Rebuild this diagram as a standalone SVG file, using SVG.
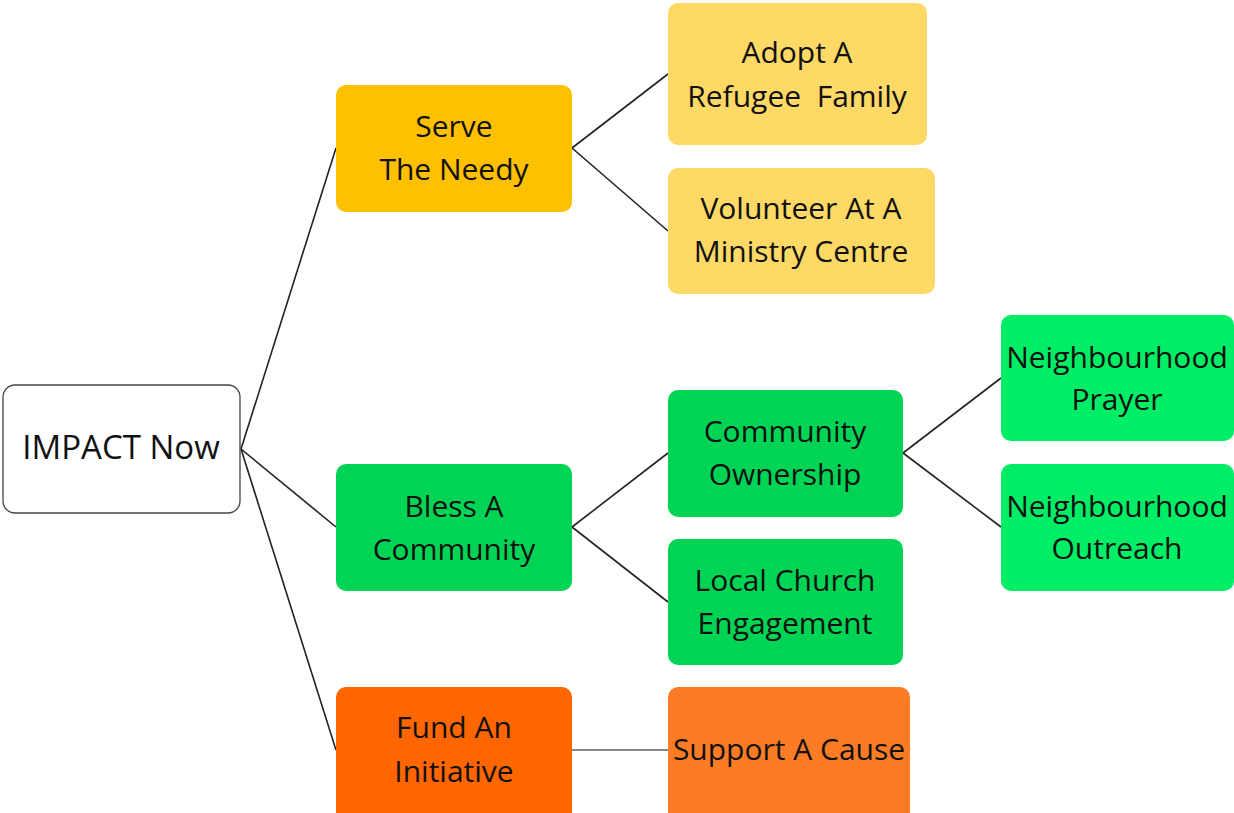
<svg xmlns="http://www.w3.org/2000/svg" width="1234" height="813" viewBox="0 0 1234 813">
<style>
text{font-family:"Open Sans","Noto Sans",sans-serif;font-size:30px;fill:#111;text-anchor:middle;dominant-baseline:central}
.c{stroke:#222;stroke-width:1.6;fill:none}
.g{stroke:#888;stroke-width:2;fill:none}
.gold{fill:#FFC000}
.lgold{fill:#FED966}
.grn{fill:#00D455}
.bgrn{fill:#00EE66}
.org{fill:#FF6600}
.lorg{fill:#FC7C26}
</style>
<rect width="1234" height="813" fill="#fff"/>
<g id="connectors">
<line class="c" x1="241" y1="449" x2="336" y2="148"/>
<line class="c" x1="241" y1="449" x2="336" y2="527"/>
<line class="c" x1="241" y1="449" x2="336" y2="750"/>
<line class="c" x1="572" y1="148" x2="668" y2="74"/>
<line class="c" x1="572" y1="148" x2="668" y2="231"/>
<line class="c" x1="572" y1="527" x2="668" y2="453"/>
<line class="c" x1="572" y1="527" x2="668" y2="602"/>
<line class="c" x1="903" y1="453" x2="1001" y2="378"/>
<line class="c" x1="903" y1="453" x2="1001" y2="527"/>
<line class="g" x1="572" y1="750" x2="668" y2="750"/>
</g>
<g id="impact-now">
<rect x="3" y="385" width="237" height="128" rx="12" fill="#fff" stroke="#444" stroke-width="1.3"/>
<text x="121" y="446" style="font-size:33px">IMPACT Now</text>
</g>
<g id="serve-the-needy">
<rect class="gold" x="336" y="85" width="236" height="127" rx="10"/>
<text x="454" y="125">Serve</text>
<text x="454" y="168">The Needy</text>
</g>
<g id="adopt-a-refugee-family">
<rect class="lgold" x="668" y="3" width="259" height="142" rx="10"/>
<text x="797" y="51">Adopt A</text>
<text x="797" y="95">Refugee&#160; Family</text>
</g>
<g id="volunteer-at-a-ministry-centre">
<rect class="lgold" x="668" y="168" width="267" height="126" rx="10"/>
<text x="801" y="207">Volunteer At A</text>
<text x="801" y="250">Ministry Centre</text>
</g>
<g id="bless-a-community">
<rect class="grn" x="336" y="464" width="236" height="127" rx="10"/>
<text x="454" y="505">Bless A</text>
<text x="454" y="548">Community</text>
</g>
<g id="community-ownership">
<rect class="grn" x="668" y="390" width="235" height="127" rx="10"/>
<text x="785" y="430">Community</text>
<text x="785" y="473">Ownership</text>
</g>
<g id="local-church-engagement">
<rect class="grn" x="668" y="539" width="235" height="126" rx="10"/>
<text x="785" y="579">Local Church</text>
<text x="785" y="622">Engagement</text>
</g>
<g id="neighbourhood-prayer">
<rect class="bgrn" x="1001" y="315" width="233" height="126" rx="10"/>
<text x="1117" y="356">Neighbourhood</text>
<text x="1117" y="398">Prayer</text>
</g>
<g id="neighbourhood-outreach">
<rect class="bgrn" x="1001" y="464" width="233" height="127" rx="10"/>
<text x="1117" y="505">Neighbourhood</text>
<text x="1117" y="547">Outreach</text>
</g>
<g id="fund-an-initiative">
<rect class="org" x="336" y="687" width="236" height="136" rx="10"/>
<text x="454" y="726">Fund An</text>
<text x="454" y="770">Initiative</text>
</g>
<g id="support-a-cause">
<rect class="lorg" x="668" y="687" width="242" height="136" rx="10"/>
<text x="789" y="748">Support A Cause</text>
</g>
</svg>
